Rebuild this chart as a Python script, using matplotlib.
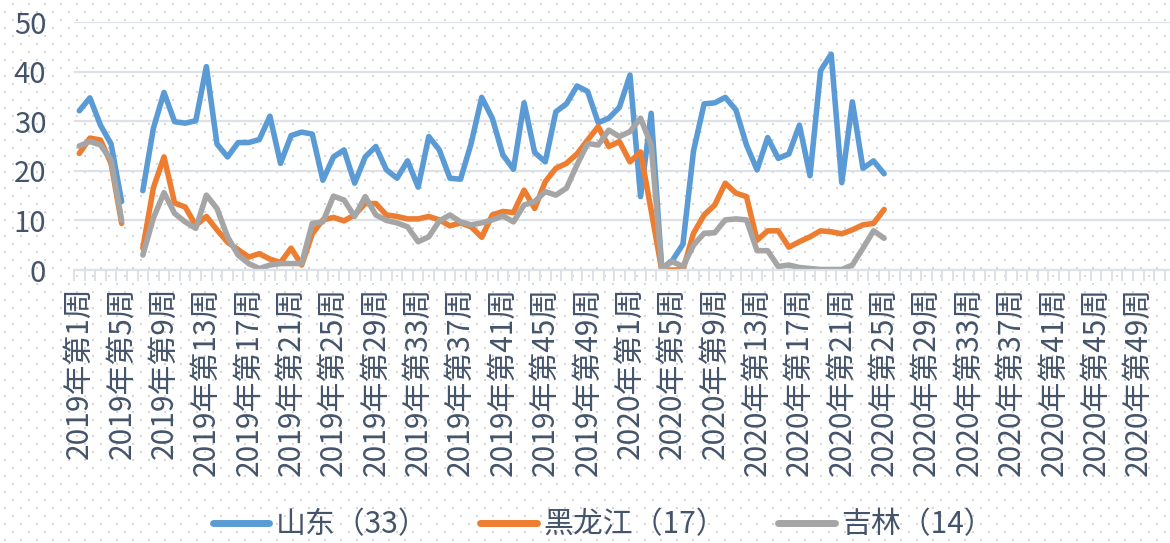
import numpy as np
import matplotlib
matplotlib.use("Agg")
import matplotlib.pyplot as plt

plt.rcParams['font.family'] = ['Noto Sans CJK SC', 'DejaVu Sans']

nan = np.nan
weeks = [f"2019年第{w}周" for w in range(1, 53)] + [f"2020年第{w}周" for w in range(1, 53)]

shandong = [32.1, 34.7, 29.2, 25.4, 13.8, nan, 16.0, 28.6, 35.8, 29.9,
            29.6, 30.1, 41.0, 25.4, 22.8, 25.7, 25.7, 26.3, 31.0, 21.5,
            27.1, 27.8, 27.4, 18.1, 22.8, 24.2, 17.5, 22.8, 24.9, 20.2,
            18.5, 22.0, 16.7, 26.9, 24.2, 18.5, 18.3, 25.5, 34.8, 30.6,
            23.2, 20.3, 33.7, 23.7, 21.8, 31.9, 33.5, 37.1, 36.0, 29.7,
            30.6, 32.8, 39.3, 14.8, 31.6, 0.3, 1.9, 5.2, 24.0, 33.5,
            33.7, 34.8, 32.3, 25.2, 20.2, 26.7, 22.5, 23.4, 29.2, 19.0,
            40.2, 43.5, 17.6, 33.9, 20.5, 22.0, 19.4]
heilongjiang = [23.5, 26.6, 26.2, 21.5, 9.4, nan, 4.4, 16.6, 22.8, 13.5,
                12.7, 9.0, 10.8, 8.1, 5.6, 4.1, 2.6, 3.3, 2.2, 1.5,
                4.4, 1.0, 7.3, 10.1, 10.6, 9.9, 11.1, 13.4, 13.4, 11.1,
                10.8, 10.3, 10.3, 10.8, 10.1, 8.9, 9.5, 8.7, 6.6, 11.1,
                11.8, 11.6, 16.1, 12.4, 17.8, 20.5, 21.5, 23.4, 26.2, 28.9,
                24.9, 25.9, 21.8, 23.8, 12.0, 0.0, 0.0, 0.0, 7.4, 11.1,
                13.1, 17.5, 15.5, 14.8, 6.0, 7.9, 7.9, 4.6, 5.7, 6.7,
                7.9, 7.7, 7.3, 8.1, 9.1, 9.4, 12.2]
jilin = [25.0, 25.9, 25.2, 22.2, 10.0, nan, 3.0, 10.5, 15.6, 11.4,
         9.7, 8.4, 15.1, 12.4, 6.7, 3.0, 1.3, 0.3, 1.0, 1.3,
         1.3, 1.3, 9.4, 9.7, 14.9, 14.1, 10.8, 14.8, 11.1, 10.0,
         9.5, 8.7, 5.7, 6.7, 9.9, 11.1, 9.7, 9.1, 9.5, 10.1,
         10.9, 9.7, 13.1, 13.8, 15.8, 15.1, 16.5, 21.2, 25.5, 25.2,
         28.2, 26.9, 27.9, 30.6, 25.2, 0.3, 1.7, 0.7, 5.0, 7.4,
         7.5, 10.1, 10.3, 10.1, 3.9, 3.9, 0.7, 1.0, 0.5, 0.3,
         0.1, 0.1, 0.1, 1.0, 4.4, 7.9, 6.4]

series = [("山东（33）", shandong, "#5B9BD5"),
          ("黑龙江（17）", heilongjiang, "#ED7D31"),
          ("吉林（14）", jilin, "#A5A5A5")]

W, H = 1170, 543
fig = plt.figure(figsize=(W / 100, H / 100), dpi=100)
fig.patch.set_facecolor("white")

# dotted background pattern
bg = fig.add_axes([0, 0, 1, 1], zorder=-5)
bg.set_xlim(0, W)
bg.set_ylim(H, 0)
bg.axis("off")
xs, ys = [], []
for r, yy in enumerate(np.arange(4, H, 8)):
    off = 12.7 if r % 2 == 0 else 4.7
    for xx in np.arange(off, W, 16):
        xs.append(xx)
        ys.append(yy)
bg.scatter(xs, ys, s=2.0, marker="s", color="#D6D6D6", linewidths=0)

n = len(weeks)
left = 74 / W
bottom = (H - 270) / H
top = (H - 22) / H
width = (n * 10.59) / W
ax = fig.add_axes([left, bottom, width, top - bottom])
ax.patch.set_visible(False)

x = np.arange(n)
for name, vals, col in series:
    y = np.full(n, np.nan)
    y[:len(vals)] = vals
    ax.plot(x, y, color=col, lw=4.0, solid_joinstyle="round",
            solid_capstyle="round", label=name)

ax.set_xlim(-0.5, n - 0.5)
ax.set_ylim(0, 50)
ax.set_yticks(np.arange(0, 51, 10))
grid_col = "#DDE2E8"
ax.grid(axis="y", color=grid_col, lw=1.6)
ax.set_axisbelow(True)
for s in ["top", "right", "left"]:
    ax.spines[s].set_visible(False)
ax.spines["bottom"].set_color(grid_col)
ax.spines["bottom"].set_linewidth(1.6)

txt_col = "#44546A"
major = list(range(0, n, 4))
ax.set_xticks(major)
ax.set_xticklabels([weeks[i] for i in major], rotation=90, fontsize=21.5,
                   color=txt_col, va="top", ha="center")
ax.set_xticks(np.arange(-0.5, n, 1), minor=True)
ax.tick_params(axis="x", which="major", length=0, pad=12)
ax.tick_params(axis="x", which="minor", length=8, color=grid_col, width=1.4)
ax.tick_params(axis="y", length=0, pad=20, labelsize=21, labelcolor=txt_col)

leg = fig.legend(loc="center", bbox_to_anchor=(603 / W, 1 - 525 / H),
                 ncol=3, frameon=False, fontsize=21.5, handlelength=1.9,
                 handletextpad=0.2, columnspacing=1.75,
                 labelcolor=txt_col)
for h in leg.legend_handles:
    h.set_linewidth(5)
    h.set_solid_capstyle("round")

fig.savefig("out.png", dpi=100)
